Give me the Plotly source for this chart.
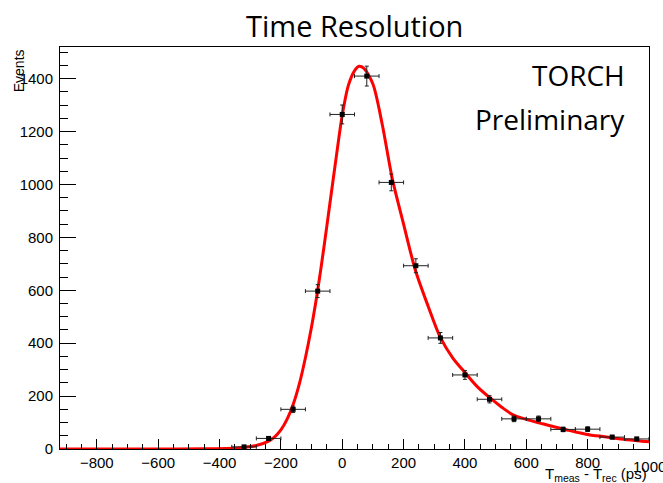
import plotly.graph_objects as go
import numpy as np

# Histogram bins (centres, ps) and contents
bin_centers = [-320, -240, -160, -80, 0, 80, 160, 240, 320, 400, 480, 560, 640, 720, 800, 880, 960]
counts = [8, 40, 150, 597, 1265, 1410, 1008, 693, 420, 280, 188, 114, 114, 74, 75, 45, 38]
bin_half_width = 40

# Fit curve
fit_x = [-920, -600, -450, -380, -330, -280, -240, -220, -200, -180, -160, -140, -120, -100, -80, -60, -40, -20, 0, 20, 40, 55, 70, 100, 130, 163, 200, 238, 280, 319, 360, 401, 440, 482, 520, 557, 600, 645, 690, 733, 770, 808, 850, 883, 930, 971, 1000]
fit_y = [0, 0, 0.5, 2, 5, 13, 30, 46, 72, 112, 168, 245, 345, 462, 600, 760, 930, 1100, 1262, 1375, 1430, 1447, 1440, 1380, 1230, 1023, 850, 678, 540, 424, 345, 288, 236, 193, 158, 129, 112, 98, 84, 72, 62, 53, 47, 42, 35, 30, 27]

x_ticks = [-800, -600, -400, -200, 0, 200, 400, 600, 800, 1000]
y_ticks = [0, 200, 400, 600, 800, 1000, 1200, 1400]

fig = go.Figure()

fig.add_trace(go.Scatter(
    x=fit_x, y=fit_y, mode="lines", line=dict(color="#ff0000", width=3, shape="spline", smoothing=0.8),
    hoverinfo="skip", showlegend=False,
))

fig.add_trace(go.Scatter(
    x=bin_centers, y=counts, mode="markers",
    marker=dict(color="black", size=5, symbol="square"),
    error_x=dict(type="constant", value=bin_half_width, color="#222222", thickness=1, width=2),
    error_y=dict(type="data", array=list(np.sqrt(counts)), color="#222222", thickness=1, width=2),
    showlegend=False,
))

axis_font = dict(family="Liberation Sans, Arial", size=15, color="black")
label_font = dict(family="Liberation Sans, Arial", size=15, color="black")

fig.update_layout(
    width=663, height=483,
    margin=dict(l=60, r=14, t=47, b=34),
    paper_bgcolor="white", plot_bgcolor="white",
    title=dict(text="Time Resolution", x=0.535, xanchor="center", y=0.945, yanchor="middle",
               font=dict(family="Open Sans", size=29, color="black")),
    xaxis=dict(range=[-920, 1000], tickvals=x_ticks, ticks="inside", ticklen=10, tickcolor="black", tickwidth=1,
               showgrid=False, zeroline=False, showline=True, linecolor="black", linewidth=1, mirror=True,
               tickfont=axis_font,
               minor=dict(dtick=50, tick0=0, ticks="inside", ticklen=5, tickcolor="black", showgrid=False)),
    yaxis=dict(range=[0, 1520], tickvals=y_ticks, ticks="inside", ticklen=16, tickcolor="black", tickwidth=1,
               showgrid=False, zeroline=False, showline=True, linecolor="black", linewidth=1, mirror=True,
               tickfont=axis_font, ticklabelstandoff=3,
               minor=dict(dtick=50, tick0=0, ticks="inside", ticklen=8, tickcolor="black", showgrid=False)),
    annotations=[
        dict(text="TORCH", xref="paper", yref="paper", x=0.963, y=0.93, xanchor="right", yanchor="middle",
             showarrow=False, font=dict(family="Open Sans", size=28, color="black")),
        dict(text="Preliminary", xref="paper", yref="paper", x=0.963, y=0.822, xanchor="right", yanchor="middle",
             showarrow=False, font=dict(family="Open Sans", size=28, color="black")),
        dict(text="Events", xref="paper", yref="paper", x=-0.07, y=1.0, xanchor="center", yanchor="top",
             textangle=-90, showarrow=False, font=dict(family="Liberation Sans, Arial", size=14, color="black")),
        dict(text="1000", xref="x", yref="paper", x=x_ticks[-1], y=-0.018, xanchor="center", yanchor="top",
             showarrow=False, font=axis_font),
        dict(text="T<sub>meas</sub> - T<sub>rec</sub> (ps)", xref="paper", yref="paper", x=1.0, y=-0.035,
             xanchor="right", yanchor="top", showarrow=False, font=label_font),
    ],
)

fig.write_html("out.html")
